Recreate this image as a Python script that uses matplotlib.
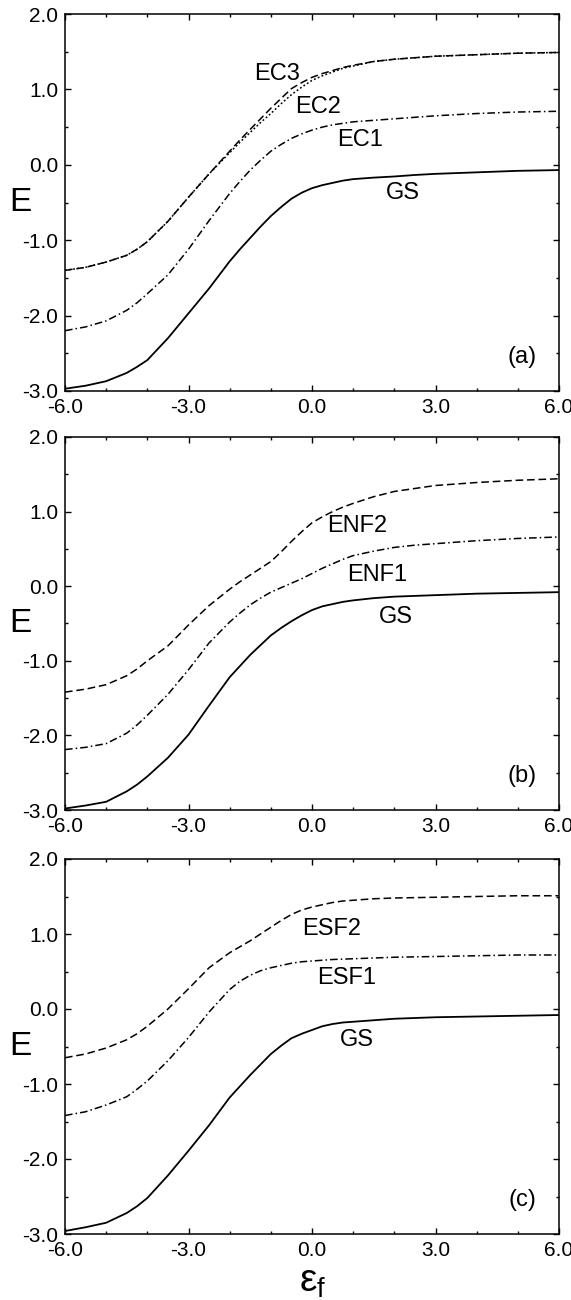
import numpy as np
import matplotlib.pyplot as plt
from matplotlib.ticker import MultipleLocator, FormatStrFormatter

plt.rcParams['font.family'] = ['Liberation Sans', 'DejaVu Sans']
plt.rcParams['mathtext.fontset'] = 'custom'
plt.rcParams['mathtext.rm'] = 'Liberation Sans'
plt.rcParams['mathtext.it'] = 'Liberation Sans'

ef = [-6, -5.5, -5, -4.5, -4.25, -4, -3.5, -3, -2.5, -2, -1.75, -1.5, -1.25, -1,
      -0.75, -0.5, -0.25, 0, 0.25, 0.5, 0.75, 1, 1.5, 2, 2.5, 3, 4, 5, 6]

# panel (a)
gs_a = [-2.97, -2.93, -2.87, -2.76, -2.68, -2.59, -2.30, -1.97, -1.64, -1.28, -1.12, -0.97, -0.82, -0.68,
        -0.56, -0.45, -0.37, -0.31, -0.27, -0.24, -0.21, -0.19, -0.17, -0.155, -0.135, -0.12, -0.10, -0.08, -0.07]
ec1 = [-2.20, -2.15, -2.07, -1.93, -1.83, -1.71, -1.46, -1.12, -0.74, -0.38, -0.22, -0.07, 0.06, 0.18,
       0.27, 0.35, 0.41, 0.46, 0.50, 0.53, 0.55, 0.57, 0.59, 0.61, 0.63, 0.65, 0.68, 0.70, 0.71]
ec2 = [-1.40, -1.36, -1.29, -1.20, -1.12, -1.02, -0.75, -0.43, -0.12, 0.16, 0.30, 0.43, 0.56, 0.68,
       0.81, 0.93, 1.03, 1.12, 1.18, 1.23, 1.28, 1.31, 1.37, 1.40, 1.42, 1.44, 1.46, 1.48, 1.49]
ec3 = [-1.40, -1.36, -1.29, -1.20, -1.12, -1.02, -0.75, -0.43, -0.12, 0.18, 0.33, 0.47, 0.61, 0.75,
       0.88, 1.01, 1.09, 1.16, 1.21, 1.25, 1.29, 1.32, 1.37, 1.40, 1.42, 1.44, 1.46, 1.48, 1.49]

# panel (b)
gs_b = [-2.98, -2.94, -2.89, -2.75, -2.66, -2.55, -2.30, -1.99, -1.60, -1.22, -1.07, -0.92, -0.79, -0.66,
        -0.56, -0.47, -0.39, -0.32, -0.27, -0.24, -0.21, -0.19, -0.16, -0.14, -0.13, -0.12, -0.10, -0.09, -0.08]
enf1 = [-2.19, -2.16, -2.11, -1.97, -1.86, -1.73, -1.45, -1.12, -0.76, -0.48, -0.36, -0.25, -0.16, -0.08,
        -0.02, 0.04, 0.10, 0.17, 0.24, 0.30, 0.36, 0.41, 0.47, 0.52, 0.55, 0.57, 0.61, 0.64, 0.66]
enf2 = [-1.42, -1.38, -1.32, -1.20, -1.11, -1.00, -0.80, -0.52, -0.26, -0.04, 0.06, 0.15, 0.24, 0.33,
        0.46, 0.60, 0.73, 0.85, 0.93, 1.00, 1.06, 1.11, 1.20, 1.27, 1.31, 1.35, 1.39, 1.42, 1.44]

# panel (c)
gs_c = [-2.96, -2.91, -2.85, -2.72, -2.63, -2.52, -2.22, -1.89, -1.55, -1.18, -1.03, -0.88, -0.74, -0.60,
        -0.49, -0.39, -0.33, -0.28, -0.23, -0.20, -0.18, -0.17, -0.15, -0.13, -0.12, -0.11, -0.10, -0.09, -0.08]
esf1 = [-1.42, -1.37, -1.28, -1.17, -1.07, -0.96, -0.69, -0.38, -0.04, 0.26, 0.37, 0.45, 0.51, 0.55,
        0.58, 0.61, 0.63, 0.64, 0.65, 0.66, 0.665, 0.67, 0.68, 0.69, 0.695, 0.70, 0.71, 0.72, 0.72]
esf2 = [-0.65, -0.60, -0.52, -0.41, -0.33, -0.23, 0.00, 0.27, 0.55, 0.75, 0.83, 0.91, 1.00, 1.09,
        1.18, 1.26, 1.32, 1.36, 1.39, 1.42, 1.44, 1.45, 1.47, 1.48, 1.485, 1.49, 1.50, 1.51, 1.51]

styles = {
    "solid": dict(ls="-", lw=1.3),
    "dash": dict(ls=(0, (5, 2.5)), lw=1.1),
    "dot": dict(ls=(0, (1.2, 1.5)), lw=1.1),
    "dashdot": dict(ls=(0, (5, 2, 1, 2)), lw=1.1),
}


def draw_panel(ax, curves, labels, tag):
    for y, st in curves:
        ax.plot(ef, y, color="black", **styles[st])
    for txt, x, y in labels:
        ax.text(x, y, txt, fontsize=17, ha="center", va="center")
    ax.text(5.1, -2.55, tag, fontsize=17, ha="center", va="center")

    ax.set_xlim(-6, 6)
    ax.set_ylim(-3, 2)
    ax.xaxis.set_major_locator(MultipleLocator(3))
    ax.xaxis.set_minor_locator(MultipleLocator(1))
    ax.yaxis.set_major_locator(MultipleLocator(1))
    ax.yaxis.set_minor_locator(MultipleLocator(0.5))
    ax.xaxis.set_major_formatter(FormatStrFormatter("%.1f"))
    ax.yaxis.set_major_formatter(FormatStrFormatter("%.1f"))
    ax.tick_params(which="both", direction="in", top=True, right=True,
                   labelsize=15, width=1.0)
    ax.tick_params(which="major", length=4, pad=5)
    ax.tick_params(which="minor", length=2)
    for s in ax.spines.values():
        s.set_linewidth(1.1)
    ax.set_ylabel("E", fontsize=24, rotation=0, va="center", ha="center")
    ax.yaxis.set_label_coords(-0.09, 0.5)


fig = plt.figure(figsize=(5.71, 13), dpi=100)
left, width = 65 / 571, 494 / 571
ax_a = fig.add_axes([left, 1 - 391 / 1300, width, 377 / 1300])
ax_b = fig.add_axes([left, 1 - 810 / 1300, width, 373 / 1300])
ax_c = fig.add_axes([left, 1 - 1234 / 1300, width, 375 / 1300])

draw_panel(ax_a,
           [(gs_a, "solid"), (ec1, "dashdot"), (ec2, "dot"), (ec3, "dash")],
           [("EC3", -0.86, 1.21), ("EC2", 0.15, 0.77), ("EC1", 1.17, 0.33), ("GS", 2.2, -0.37)],
           "(a)")
draw_panel(ax_b,
           [(gs_b, "solid"), (enf1, "dashdot"), (enf2, "dash")],
           [("ENF2", 1.10, 0.81), ("ENF1", 1.58, 0.15), ("GS", 2.03, -0.41)],
           "(b)")
draw_panel(ax_c,
           [(gs_c, "solid"), (esf1, "dashdot"), (esf2, "dash")],
           [("ESF2", 0.48, 1.07), ("ESF1", 0.83, 0.41), ("GS", 1.10, -0.42)],
           "(c)")

ax_c.set_xlabel(r"$\varepsilon_{\rm f}$", fontsize=28, labelpad=3)

fig.savefig("out.png", dpi=100)
